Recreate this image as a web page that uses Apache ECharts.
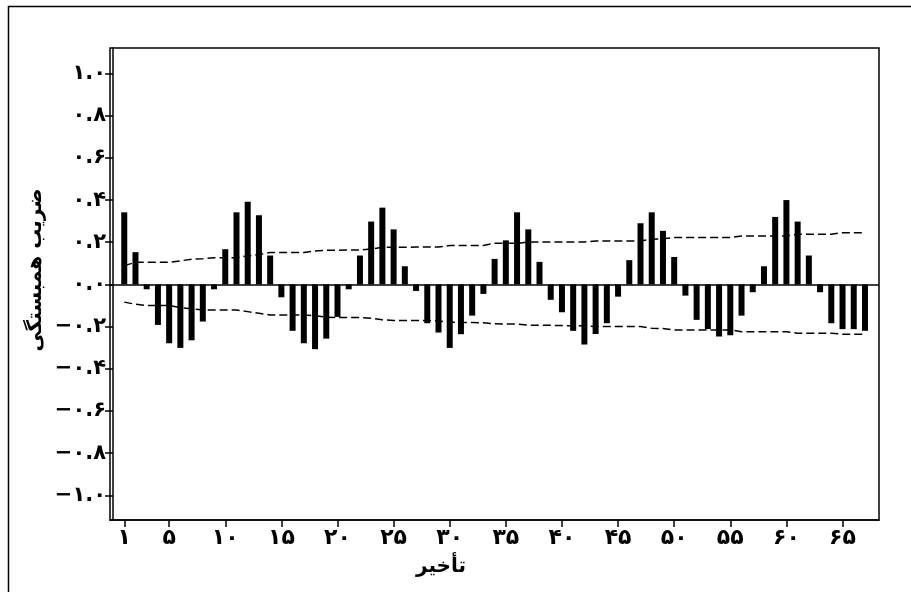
<!DOCTYPE html>
<html>
<head>
<meta charset="utf-8">
<script src="https://cdn.jsdelivr.net/npm/echarts@6/dist/echarts.min.js"></script>
<style>
html,body{margin:0;padding:0;background:#fff;}
#chart{width:911px;height:592px;}
</style>
</head>
<body>
<div id="chart"></div>
<script>
// Lags 1..67
const lags = [];
for (let i = 1; i <= 67; i++) lags.push(i);

// Autocorrelation values
const acf = [
  0.342, 0.153, -0.023, -0.192, -0.279, -0.301, -0.265, -0.176, -0.023, 0.167,
  0.342, 0.392, 0.328, 0.137, -0.061, -0.220, -0.279, -0.307, -0.257, -0.154,
  -0.023, 0.137, 0.298, 0.364, 0.261, 0.086, -0.031, -0.184, -0.228, -0.301,
  -0.236, -0.148, -0.045, 0.121, 0.209, 0.342, 0.261, 0.107, -0.073, -0.132,
  -0.220, -0.285, -0.235, -0.184, -0.058, 0.115, 0.290, 0.342, 0.254, 0.130,
  -0.053, -0.168, -0.212, -0.247, -0.241, -0.148, -0.037, 0.086, 0.320, 0.400,
  0.298, 0.137, -0.037, -0.184, -0.212, -0.212, -0.220
];

// Upper and lower significance limits (dashed lines)
const upperLimit = [
  0.089, 0.105, 0.105, 0.105, 0.105, 0.112, 0.119, 0.122, 0.127, 0.127,
  0.127, 0.135, 0.142, 0.151, 0.151, 0.151, 0.151, 0.159, 0.162, 0.162,
  0.163, 0.163, 0.168, 0.176, 0.176, 0.176, 0.177, 0.177, 0.177, 0.184,
  0.185, 0.185, 0.185, 0.195, 0.195, 0.195, 0.201, 0.201, 0.201, 0.201,
  0.201, 0.201, 0.206, 0.206, 0.206, 0.206, 0.206, 0.214, 0.216, 0.222,
  0.222, 0.222, 0.222, 0.222, 0.222, 0.230, 0.230, 0.230, 0.230, 0.230,
  0.238, 0.238, 0.238, 0.238, 0.245, 0.245, 0.245
];
const lowerLimit = [
  -0.084, -0.094, -0.100, -0.100, -0.100, -0.110, -0.115, -0.121, -0.121, -0.121,
  -0.121, -0.129, -0.137, -0.145, -0.145, -0.145, -0.145, -0.148, -0.156, -0.157,
  -0.157, -0.157, -0.160, -0.168, -0.171, -0.171, -0.171, -0.171, -0.173, -0.179,
  -0.180, -0.181, -0.182, -0.187, -0.188, -0.188, -0.193, -0.194, -0.194, -0.195,
  -0.196, -0.197, -0.200, -0.200, -0.200, -0.200, -0.200, -0.208, -0.209, -0.216,
  -0.216, -0.216, -0.216, -0.216, -0.216, -0.224, -0.224, -0.224, -0.224, -0.224,
  -0.231, -0.231, -0.231, -0.231, -0.236, -0.236, -0.236
];

// Tick values and labels
const xTickValues = [1, 5, 10, 15, 20, 25, 30, 35, 40, 45, 50, 55, 60, 65];
const xTickLabels = ['۱', '۵', '۱۰', '۱۵', '۲۰', '۲۵', '۳۰', '۳۵', '۴۰', '۴۵', '۵۰', '۵۵', '۶۰', '۶۵'];
const yTickValues = [-1.0, -0.8, -0.6, -0.4, -0.2, 0.0, 0.2, 0.4, 0.6, 0.8, 1.0];
const yTickLabels = ['−۱.۰', '−۰.۸', '−۰.۶', '−۰.۴', '−۰.۲', '۰.۰', '۰.۲', '۰.۴', '۰.۶', '۰.۸', '۱.۰'];

const xTitle = 'تأخیر';
const yTitle = 'ضریب همبستگی';

const FONT = '"DejaVu Sans", sans-serif';

const chart = echarts.init(document.getElementById('chart'), null, {renderer: 'canvas'});

const pairs = arr => lags.map((l, i) => [l, arr[i]]);

const option = {
  backgroundColor: '#fff',
  animation: false,
  grid: {
    left: 110, top: 48, right: 32, bottom: 72,
    show: true, borderColor: '#000', borderWidth: 1.5, backgroundColor: 'transparent'
  },
  xAxis: {
    type: 'value',
    min: -0.27, max: 68.25,
    splitLine: {show: false},
    axisLine: {show: true, onZero: false, lineStyle: {color: '#000', width: 1.5}},
    axisTick: {show: true, length: 7, lineStyle: {color: '#000', width: 1.5}, customValues: xTickValues},
    axisLabel: {
      show: true, customValues: xTickValues, margin: 7,
      color: '#000', fontFamily: FONT, fontWeight: 'bold', fontSize: 22,
      formatter: v => { const i = xTickValues.indexOf(v); return i >= 0 ? xTickLabels[i] : ''; }
    }
  },
  yAxis: {
    type: 'value',
    min: -1.117, max: 1.121,
    splitLine: {show: false},
    axisLine: {show: true, lineStyle: {color: '#000', width: 1.5}},
    axisTick: {show: true, length: 8, lineStyle: {color: '#000', width: 1.5}, customValues: yTickValues},
    axisLabel: {
      show: true, customValues: yTickValues, margin: 4,
      color: '#000', fontFamily: FONT, fontWeight: 'bold', fontSize: 21,
      formatter: v => {
        let best = -1, bd = 1e9;
        yTickValues.forEach((t, i) => { const d = Math.abs(t - v); if (d < bd) { bd = d; best = i; } });
        return bd < 1e-6 ? yTickLabels[best] : '';
      }
    }
  },
  series: [
    {
      type: 'bar',
      data: pairs(acf),
      barWidth: 6,
      itemStyle: {color: '#000'},
      silent: true,
      markLine: {
        silent: true, symbol: ['none', 'none'], label: {show: false},
        lineStyle: {color: '#000', width: 1.5, type: 'solid'},
        data: [{yAxis: 0}]
      }
    },
    {
      type: 'line',
      data: pairs(upperLimit),
      symbol: 'none',
      lineStyle: {color: '#000', width: 1.5, type: [8, 4]},
      silent: true
    },
    {
      type: 'line',
      data: pairs(lowerLimit),
      symbol: 'none',
      lineStyle: {color: '#000', width: 1.5, type: [8, 4]},
      silent: true
    }
  ],
  graphic: [
    {
      type: 'rect', silent: true,
      shape: {x: 8.5, y: 6.5, width: 1000, height: 1000},
      style: {fill: 'none', stroke: '#000', lineWidth: 1.5}
    },
    {
      type: 'text', silent: true,
      x: 441, y: 567,
      style: {text: xTitle, fontFamily: FONT, fontWeight: 'bold', fontSize: 20, fill: '#000', align: 'center', verticalAlign: 'middle'}
    },
    {
      type: 'text', silent: true,
      x: 36, y: 270, rotation: Math.PI / 2,
      style: {text: yTitle, fontFamily: FONT, fontWeight: 'bold', fontSize: 20, fill: '#000', align: 'center', verticalAlign: 'middle'}
    }
  ]
};

chart.setOption(option);
</script>
</body>
</html>
